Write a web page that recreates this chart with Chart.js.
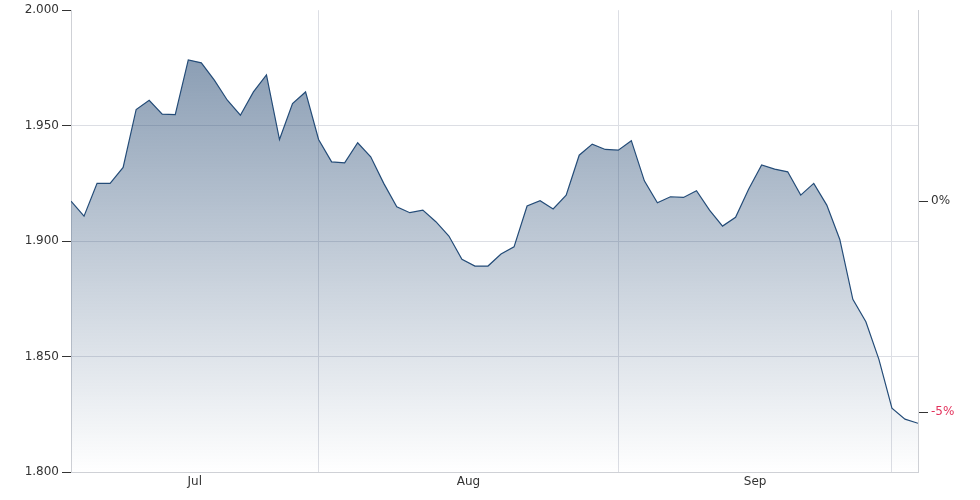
<!DOCTYPE html>
<html>
<head>
<meta charset="utf-8">
<script src="https://cdn.jsdelivr.net/npm/chart.js@4/dist/chart.umd.min.js"></script>
<style>
  html, body { margin: 0; padding: 0; background: #fff; }
  #wrap { width: 980px; height: 500px; }
</style>
</head>
<body>
<div id="wrap"><canvas id="priceChart" width="980" height="500"></canvas></div>
<script>
// daily closing prices, early June to early October
const prices = [
  1.9173, 1.9108, 1.9250, 1.9250, 1.9319, 1.9570, 1.9610, 1.9550, 1.9548, 1.9785,
  1.9772, 1.9697, 1.9610, 1.9545, 1.9646, 1.9720, 1.9440, 1.9596, 1.9646, 1.9440,
  1.9343, 1.9339, 1.9426, 1.9365, 1.9250, 1.9149, 1.9123, 1.9134, 1.9084, 1.9022,
  1.8921, 1.8892, 1.8892, 1.8944, 1.8975, 1.9152, 1.9175, 1.9139, 1.9199, 1.9372,
  1.9420, 1.9397, 1.9394, 1.9435, 1.9261, 1.9166, 1.9192, 1.9189, 1.9218, 1.9134,
  1.9065, 1.9103, 1.9225, 1.9330, 1.9312, 1.9300, 1.9199, 1.9250, 1.9156, 1.9007,
  1.8748, 1.8651, 1.8488, 1.8276, 1.8229, 1.8211
];
const monthNames = ['Jul', 'Aug', 'Sep'];
const monthStarts = [19, 42, 63];     // index of first trading day of Aug, Sep, Oct
const priceTicks = [1.80, 1.85, 1.90, 1.95, 2.00];
const pctTicks = [-5, 0];
const pctRange = [-6.413, 4.52];

const points = prices.map((v, i) => ({ x: i, y: v }));

// month label sits in the middle of its block
const monthMids = monthNames.map((m, k) => ((k === 0 ? 0 : monthStarts[k - 1]) + monthStarts[k]) / 2);

const ctx = document.getElementById('priceChart').getContext('2d');

new Chart(ctx, {
  type: 'line',
  data: {
    datasets: [{
      data: points,
      borderColor: '#244c78',
      borderWidth: 1.2,
      pointRadius: 0,
      tension: 0,
      fill: 'start',
      backgroundColor: function(c) {
        const area = c.chart.chartArea;
        if (!area) return 'rgba(46,80,120,0.3)';
        const g = c.chart.ctx.createLinearGradient(0, area.top, 0, area.bottom);
        g.addColorStop(0, 'rgba(46,80,120,0.62)');
        g.addColorStop(1, 'rgba(46,80,120,0.0)');
        return g;
      }
    }]
  },
  options: {
    responsive: false,
    animation: false,
    layout: { padding: { top: 10, left: 0, right: 0, bottom: 0 } },
    plugins: { legend: { display: false }, tooltip: { enabled: false } },
    scales: {
      x: {
        type: 'linear',
        min: 0,
        max: prices.length - 1,
        afterBuildTicks: s => {
          const t = [];
          monthMids.forEach((m, k) => { t.push({ value: m }); t.push({ value: monthStarts[k] }); });
          s.ticks = t;
        },
        afterFit: s => { s.height = 28; },
        grid: {
          drawTicks: false,
          color: c => (c.tick && Number.isInteger(c.tick.value)) ? '#dcdee4' : 'rgba(0,0,0,0)'
        },
        border: { color: '#cfd1d6' },
        ticks: {
          autoSkip: false,
          maxRotation: 0,
          padding: 3,
          color: '#333',
          font: { family: 'DejaVu Sans', size: 12 },
          callback: v => {
            const k = monthMids.indexOf(v);
            return k >= 0 ? monthNames[k] : '';
          }
        }
      },
      y: {
        position: 'left',
        min: priceTicks[0],
        max: priceTicks[priceTicks.length - 1],
        afterBuildTicks: s => { s.ticks = priceTicks.map(v => ({ value: v })); },
        afterFit: s => { s.width = 71; },
        grid: {
          tickLength: 9,
          tickColor: '#333',
          color: c => (c.tick && c.tick.value > 1.99) ? 'rgba(0,0,0,0)' : '#dcdee4'
        },
        border: { color: '#cfd1d6' },
        ticks: {
          padding: 3,
          color: '#333',
          font: { family: 'DejaVu Sans', size: 12 },
          callback: v => v.toFixed(3)
        }
      },
      y2: {
        position: 'right',
        min: pctRange[0],
        max: pctRange[1],
        afterBuildTicks: s => { s.ticks = pctTicks.map(v => ({ value: v })); },
        afterFit: s => { s.width = 62; },
        grid: {
          drawOnChartArea: false,
          tickLength: 10,
          tickColor: '#333'
        },
        border: { color: '#cfd1d6' },
        ticks: {
          padding: 3,
          font: { family: 'DejaVu Sans', size: 12 },
          color: c => c.tick.value < 0 ? '#e3325c' : '#333',
          callback: v => v + '%'
        }
      }
    }
  }
});
</script>
</body>
</html>
